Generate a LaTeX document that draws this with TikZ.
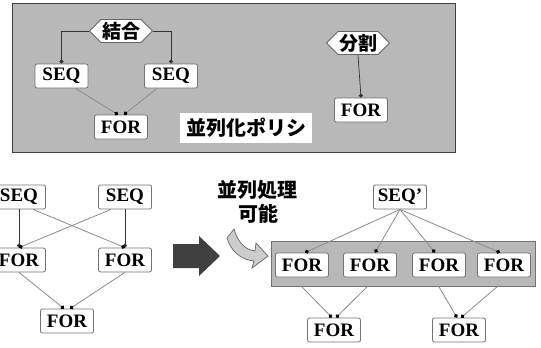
\documentclass[tikz,border=0pt]{standalone}
\usepackage{fontspec}
\setmainfont{Liberation Serif}
\newfontfamily\cjk{Noto Sans CJK JP}
\usetikzlibrary{arrows.meta,shapes.symbols}
\tikzset{
  box/.style={draw=black!55, fill=white, rounded corners=2pt, line width=0.8pt,
    font=\fontsize{19}{19}\selectfont\bfseries, inner sep=1pt,
    minimum width=53pt, minimum height=24pt},
  hexa/.style={signal, signal to=west and east, draw=black!60, fill=white, line width=0.8pt,
    font=\fontsize{19}{19}\selectfont\cjk\bfseries, inner sep=1pt, minimum width=62pt, minimum height=23pt},
  conn/.style={draw=black!80, line width=0.7pt, -{Circle[length=4pt]}},
  lk/.style={draw=black!45, line width=0.8pt, -{Circle[length=4pt,color=black]}},
  jp/.style={font=\fontsize{20}{20}\selectfont\cjk\bfseries, inner sep=1pt},
}
\begin{document}
\begin{tikzpicture}[x=1pt,y=-1pt]
\useasboundingbox (0,0) rectangle (541,348);
\fill[white] (0,0) rectangle (541,348);
% top panel
\node[draw=black!75, fill=black!28, line width=1pt, minimum width=443pt, minimum height=149pt, inner sep=0pt] (panel) at (234,78) {};
\node[hexa] (ket) at (121,31) {結合};
\node[box] (seqA) at (61.5,76) {SEQ};
\node[box] (seqB) at (171,76) {SEQ};
\node[box] (forT) at (121,127) {FOR};
\node[jp, fill=white, minimum width=132pt, minimum height=30pt] (pol) at (246,128) {並列化ポリシ};
\node[hexa] (bun) at (358,43) {分割};
\node[box] (forR) at (361,110) {FOR};
\draw[conn] (ket.west) -| (seqA.north);
\draw[conn] (ket.east) -| (seqB.north);
\draw[lk] ([xshift=14pt]seqA.south) -- ([xshift=-3pt]forT.north);
\draw[lk] ([xshift=-14pt]seqB.south) -- ([xshift=3pt]forT.north);
\draw[conn] (bun.south) -- (forR.north);
% bottom left
\node[box] (sL) at (19,197) {SEQ};
\node[box] (sR) at (125,197) {SEQ};
\node[box] (fL) at (19,260) {FOR};
\node[box] (fR) at (125,260) {FOR};
\node[box] (fB) at (67,321) {FOR};
\draw[conn] (sL.south) -- (fL.north);
\draw[conn] (sR.south) -- (fR.north);
\draw[lk] ([xshift=14pt]sL.south) -- (fR.north);
\draw[lk] ([xshift=-14pt]sR.south) -- (fL.north);
\draw[lk] (fL.south) -- ([xshift=-3pt]fB.north);
\draw[lk] (fR.south) -- ([xshift=3pt]fB.north);
% big arrow
\fill[black!75] (173,244) -- (199,244) -- (199,236) -- (220,256) -- (199,276) -- (199,268) -- (173,268) -- cycle;
% label
\node[jp] (t1) at (257,190) {並列処理};
\node[jp] (t2) at (258,214) {可能};
% curved arrow
\filldraw[fill=black!20, draw=black!60, line width=0.7pt]
  (227,238) .. controls (231,252) and (242,260) .. (254,261) -- (252,268) -- (268,256) -- (256,243) -- (255,251)
  .. controls (246,250) and (238,243) .. (234,229) -- cycle;
% right part
\node[draw=black!55, fill=black!28, line width=0.8pt, minimum width=264pt, minimum height=45pt, inner sep=0pt] (band) at (403,264) {};
\node[box] (sq) at (400,197) {SEQ'};
\node[box] (f1) at (302,265) {FOR};
\node[box] (f2) at (370,265) {FOR};
\node[box] (f3) at (439,265) {FOR};
\node[box] (f4) at (504,265) {FOR};
\node[box] (b1) at (334,330) {FOR};
\node[box] (b2) at (459,330) {FOR};
\draw[lk] (sq.south) -- ([xshift=3pt]f1.north);
\draw[lk] (sq.south) -- ([xshift=5pt]f2.north);
\draw[lk] (sq.south) -- ([xshift=-4pt]f3.north);
\draw[lk] (sq.south) -- ([xshift=-4pt]f4.north);
\draw[lk] (f1.south |- band.south) -- ([xshift=-2pt]b1.north);
\draw[lk] ([xshift=-3pt]f2.south |- band.south) -- ([xshift=2pt]b1.north);
\draw[lk] (f3.south |- band.south) -- ([xshift=-2pt]b2.north);
\draw[lk] ([xshift=-7pt]f4.south |- band.south) -- ([xshift=2pt]b2.north);
\end{tikzpicture}
\end{document}
